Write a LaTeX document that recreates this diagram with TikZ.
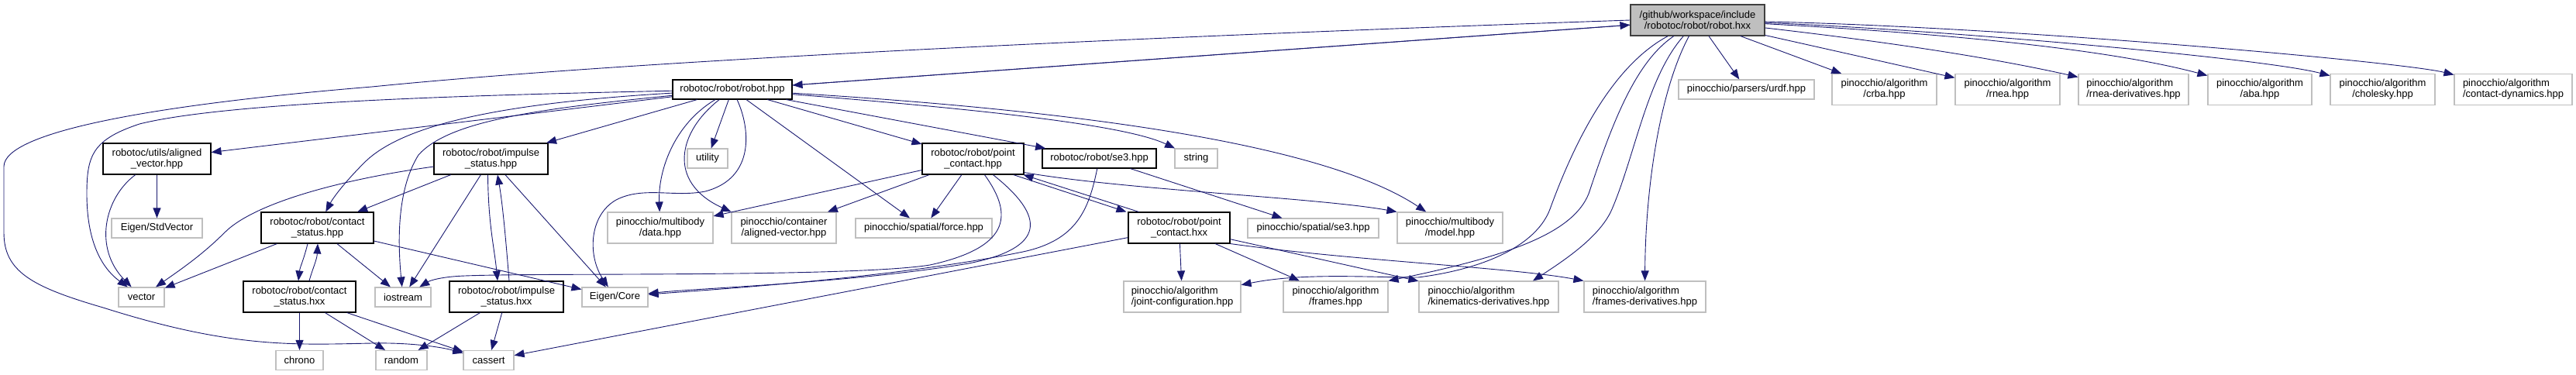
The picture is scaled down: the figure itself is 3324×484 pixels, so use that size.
\documentclass[tikz,border=0pt]{standalone}
\usepackage{fontspec}
\setmainfont{Liberation Sans}
\usetikzlibrary{arrows.meta}
\definecolor{edgec}{HTML}{191970}
\definecolor{extgray}{HTML}{BFBFBF}
\definecolor{rootgray}{HTML}{BFBFBF}
\definecolor{rootborder}{HTML}{404040}
\newcommand{\nodefont}{\fontsize{13}{14}\selectfont}
\tikzset{
  base/.style={draw, line width=1.1pt, inner sep=0pt, minimum height=25pt, font=\nodefont, text=black, fill=white, align=center},
  ext/.style={base, draw=extgray},
  int/.style={base, draw=black},
  rootbox/.style={base, draw=rootborder, fill=rootgray},
  two/.style={minimum height=40pt},
  e/.style={draw=edgec, line width=0.9pt, -{Triangle[length=13pt,width=10pt]}}
}
\begin{document}
\begin{tikzpicture}[x=1pt,y=-1pt]
\useasboundingbox (0,0) rectangle (3324,484);
% nodes
\node[rootbox,two,minimum width=173pt] (root) at (2190.5,26) {/github/workspace/include\\/robotoc/robot/robot.hxx};
\node[int,minimum width=154pt] (hpp) at (945,115.5) {robotoc/robot/robot.hpp};
\node[int,two,minimum width=139pt] (alvec) at (202.5,205) {robotoc/utils/aligned\\\_vector.hpp};
\node[ext,minimum width=117pt] (stdvec) at (202.5,294.5) {Eigen/StdVector};
\node[ext,minimum width=59pt] (vector) at (182.5,383.5) {vector};
\node[int,two,minimum width=145pt] (cshpp) at (409.5,294) {robotoc/robot/contact\\\_status.hpp};
\node[int,two,minimum width=145pt] (cshxx) at (386.5,383) {robotoc/robot/contact\\\_status.hxx};
\node[ext,minimum width=61pt] (chrono) at (386.5,465) {chrono};
\node[int,two,minimum width=147pt] (ishpp) at (633.5,205) {robotoc/robot/impulse\\\_status.hpp};
\node[ext,minimum width=72pt] (iostream) at (520,383.5) {iostream};
\node[int,two,minimum width=147pt] (ishxx) at (653.5,383) {robotoc/robot/impulse\\\_status.hxx};
\node[ext,minimum width=85pt] (eigencore) at (793.5,383.5) {Eigen/Core};
\node[ext,minimum width=66pt] (random) at (518,465) {random};
\node[ext,minimum width=65pt] (cassert) at (630.5,465) {cassert};
\node[ext,two,minimum width=136pt] (data) at (852,294) {pinocchio/multibody\\/data.hpp};
\node[ext,minimum width=52pt] (utility) at (913,204.5) {utility};
\node[ext,two,minimum width=135pt] (container) at (1011.5,294) {pinocchio/container\\/aligned-vector.hpp};
\node[ext,minimum width=176pt] (force) at (1192,294.5) {pinocchio/spatial/force.hpp};
\node[int,two,minimum width=131pt] (pchpp) at (1255.5,205) {robotoc/robot/point\\\_contact.hpp};
\node[int,minimum width=147pt] (rse3) at (1418.5,204.5) {robotoc/robot/se3.hpp};
\node[ext,minimum width=55pt] (string) at (1543.5,204.5) {string};
\node[int,two,minimum width=131pt] (pchxx) at (1521.5,294) {robotoc/robot/point\\\_contact.hxx};
\node[ext,minimum width=169pt] (pse3) at (1694.5,294.5) {pinocchio/spatial/se3.hpp};
\node[ext,two,minimum width=136pt] (model) at (1871,294) {pinocchio/multibody\\/model.hpp};
\node[ext,two,minimum width=151pt,align=left] (jointcfg) at (1525.5,383) {pinocchio/algorithm\\/joint-configuration.hpp};
\node[ext,two,minimum width=135pt] (frames) at (1723.5,383) {pinocchio/algorithm\\/frames.hpp};
\node[ext,two,minimum width=180pt,align=left] (kinder) at (1921,383) {pinocchio/algorithm\\/kinematics-derivatives.hpp};
\node[ext,two,minimum width=157pt,align=left] (framesder) at (2122.5,383) {pinocchio/algorithm\\/frames-derivatives.hpp};
\node[ext,minimum width=175pt] (urdf) at (2253.5,115.5) {pinocchio/parsers/urdf.hpp};
\node[ext,two,minimum width=135pt] (crba) at (2431.5,115.5) {pinocchio/algorithm\\/crba.hpp};
\node[ext,two,minimum width=135pt] (rnea) at (2590.5,115.5) {pinocchio/algorithm\\/rnea.hpp};
\node[ext,two,minimum width=142pt,align=left] (rneader) at (2753,115.5) {pinocchio/algorithm\\/rnea-derivatives.hpp};
\node[ext,two,minimum width=134pt] (aba) at (2916,115.5) {pinocchio/algorithm\\/aba.hpp};
\node[ext,two,minimum width=135pt] (cholesky) at (3074.5,115.5) {pinocchio/algorithm\\/cholesky.hpp};
\node[ext,two,minimum width=152pt,align=left] (contactdyn) at (3243,115.5) {pinocchio/algorithm\\/contact-dynamics.hpp};

% root edges
\draw[e] (hpp) -- (root);
\draw[e] (root) -- (hpp);
\draw[e] (root.west) .. controls (1400,50) and (800,80) .. (480,112) .. controls (200,135) and (5,170) .. (5,215) -- (5,300) .. controls (5,350) and (40,370) .. (133,397) .. controls (300,450) and (380,445) .. (480,443) .. controls (530,442) and (570,448) .. (cassert);
\draw[e] (root) -- (urdf);
\draw[e] (root) -- (crba);
\draw[e] (root) -- (rnea);
\draw[e] (root) .. controls (2400,50) and (2550,70) .. (rneader);
\draw[e] (root) .. controls (2450,40) and (2700,58) .. (aba);
\draw[e] (root) .. controls (2500,38) and (2920,75) .. (cholesky);
\draw[e] (root) .. controls (2600,35) and (3100,80) .. (contactdyn);
\draw[e] (root) .. controls (2140,120) and (2123,250) .. (framesder);
\draw[e] (root) .. controls (2125,100) and (2110,200) .. (2080,270) .. controls (2065,305) and (2020,335) .. ([xshift=57pt]kinder.north);
\draw[e] (root) .. controls (2110,80) and (2080,160) .. (2050,250) .. controls (2030,300) and (1950,330) .. (frames.north east);
\draw[e] (root) .. controls (2090,80) and (2040,160) .. (2000,270) .. controls (1985,310) and (1930,345) .. (1830,358) .. controls (1760,358) and (1680,352) .. (jointcfg);

% robot.hpp edges
\draw[e] (hpp) .. controls (650,122) and (300,130) .. (180,160) .. controls (120,180) and (112,200) .. (112,250) .. controls (112,310) and (130,345) .. (vector);
\draw[e] (hpp) -- (alvec);
\draw[e] (hpp) .. controls (700,140) and (580,155) .. (540,200) .. controls (515,240) and (512,300) .. (iostream);
\draw[e] (hpp) .. controls (650,133) and (520,160) .. (470,210) .. controls (445,235) and (430,255) .. (cshpp);
\draw[e] (hpp) -- (ishpp);
\draw[e] (hpp) -- (utility);
\draw[e] (hpp) .. controls (870,160) and (849,220) .. (data);
\draw[e] (hpp) .. controls (875,170) and (860,235) .. (container.north west);
\draw[e] (hpp) .. controls (968,165) and (975,230) .. (910,247) .. controls (870,255) and (830,240) .. (795,258) .. controls (760,278) and (758,330) .. (eigencore);
\draw[e] (hpp) -- (force);
\draw[e] (hpp) -- (pchpp);
\draw[e] (hpp) -- (rse3);
\draw[e] (hpp) .. controls (1250,140) and (1450,160) .. (string);
\draw[e] (hpp) .. controls (1350,140) and (1700,180) .. (model);

% aligned_vector
\draw[e] (alvec) -- (stdvec);
\draw[e] (alvec) .. controls (135,255) and (120,320) .. (vector);

% impulse_status.hpp
\draw[e] (ishpp) .. controls (450,230) and (330,260) .. (290,300) .. controls (260,330) and (230,350) .. (vector);
\draw[e] (ishpp) -- (cshpp);
\draw[e] (ishpp) -- (iostream);
\draw[e] ([xshift=-4pt]ishpp.south) .. controls (630,290) and (638,320) .. ([xshift=-11.5pt]ishxx.north);
\draw[e] ([xshift=3.5pt]ishxx.north) .. controls (652,300) and (648,260) .. ([xshift=8.5pt]ishpp.south);
\draw[e] (ishpp) -- (eigencore);
\draw[e] (ishxx) -- (random);
\draw[e] (ishxx) -- (cassert);

% contact_status
\draw[e] (cshpp) -- (vector);
\draw[e] ([xshift=-12.5pt]cshpp.south) .. controls (392,335) and (387,345) .. ([xshift=-1.5pt]cshxx.north);
\draw[e] ([xshift=12.5pt]cshxx.north) .. controls (404,345) and (409,335) .. ([xshift=0.5pt]cshpp.south);
\draw[e] (cshpp) -- (iostream);
\draw[e] (cshpp) -- (eigencore);
\draw[e] (cshxx) -- (chrono);
\draw[e] (cshxx) -- (random);
\draw[e] (cshxx) -- (cassert);

% point_contact.hpp
\draw[e] (pchpp) -- (container);
\draw[e] (pchpp) -- (force);
\draw[e] (pchpp) -- (data);
\draw[e] (pchpp) .. controls (1310,280) and (1300,320) .. (1200,342) .. controls (1100,358) and (700,352) .. (600,356) .. controls (570,357) and (555,362) .. (iostream);
\draw[e] (pchpp) .. controls (1350,280) and (1350,320) .. (1250,340) .. controls (1100,365) and (900,372) .. (eigencore);
\draw[e] ([xshift=-14pt]pchpp.south east) -- ([xshift=-2pt]pchxx.north west);
\draw[e] ([xshift=14pt]pchxx.north west) -- ([xshift=-1pt]pchpp.south east);
\draw[e] ([yshift=3pt]pchpp.south east) .. controls (1450,245) and (1700,255) .. (model.north west);

% robotoc se3
\draw[e] (rse3) -- (pse3);
\draw[e] (rse3) .. controls (1405,270) and (1390,310) .. (1320,325) .. controls (1150,360) and (900,375) .. (eigencore);

% point_contact.hxx
\draw[e] (pchxx) -- (jointcfg);
\draw[e] (pchxx) -- (frames);
\draw[e] (pchxx) -- (kinder);
\draw[e] (pchxx.south east) .. controls (1750,337) and (1950,345) .. (framesder.north west);
\draw[e] (pchxx) -- (cassert);
\end{tikzpicture}
\end{document}
